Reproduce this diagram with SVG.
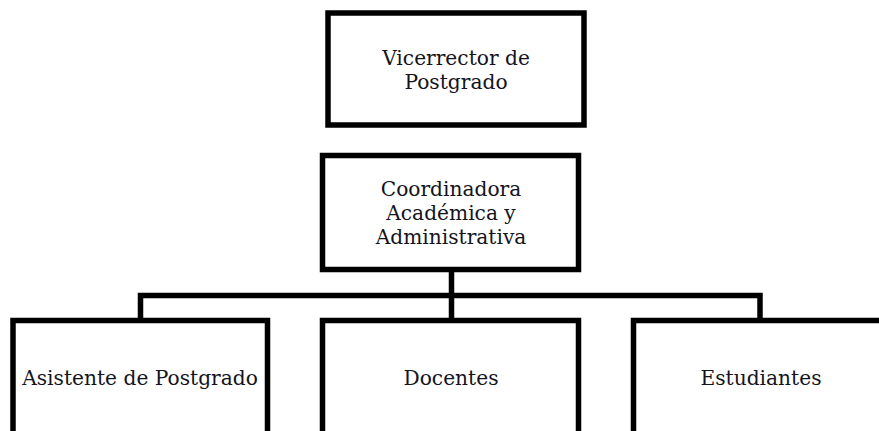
<svg xmlns="http://www.w3.org/2000/svg" width="879" height="431" viewBox="0 0 879 431">
<style>
.box{fill:#fff;stroke:#000;stroke-width:5.5}
.lbl{font-family:"DejaVu Serif","Liberation Serif",serif;font-size:20.2px;fill:#141420;text-anchor:middle}
.con{stroke:#000;stroke-width:5.5;fill:none}
</style>
<rect width="879" height="431" fill="#fff"/>
<g id="connectors">
<line class="con" x1="451.5" y1="270" x2="451.5" y2="322"/>
<polyline class="con" points="140.5,322 140.5,295.5 760,295.5 760,322"/>
</g>
<g id="vicerrector">
<rect class="box" x="328" y="13" width="256" height="112"/>
<text class="lbl" x="456" y="65">Vicerrector de</text>
<text class="lbl" x="456" y="89">Postgrado</text>
</g>
<g id="coordinadora">
<rect class="box" x="322.5" y="155.5" width="256" height="114"/>
<text class="lbl" x="451" y="196">Coordinadora</text>
<text class="lbl" x="451" y="220">Académica y</text>
<text class="lbl" x="451" y="244">Administrativa</text>
</g>
<g id="asistente">
<rect class="box" x="13" y="320.5" width="254.5" height="130"/>
<text class="lbl" x="140" y="385">Asistente de Postgrado</text>
</g>
<g id="docentes">
<rect class="box" x="322.5" y="320.5" width="256" height="130"/>
<text class="lbl" x="451" y="385">Docentes</text>
</g>
<g id="estudiantes">
<rect class="box" x="633.5" y="320.5" width="256" height="130"/>
<text class="lbl" x="761" y="385">Estudiantes</text>
</g>
</svg>
